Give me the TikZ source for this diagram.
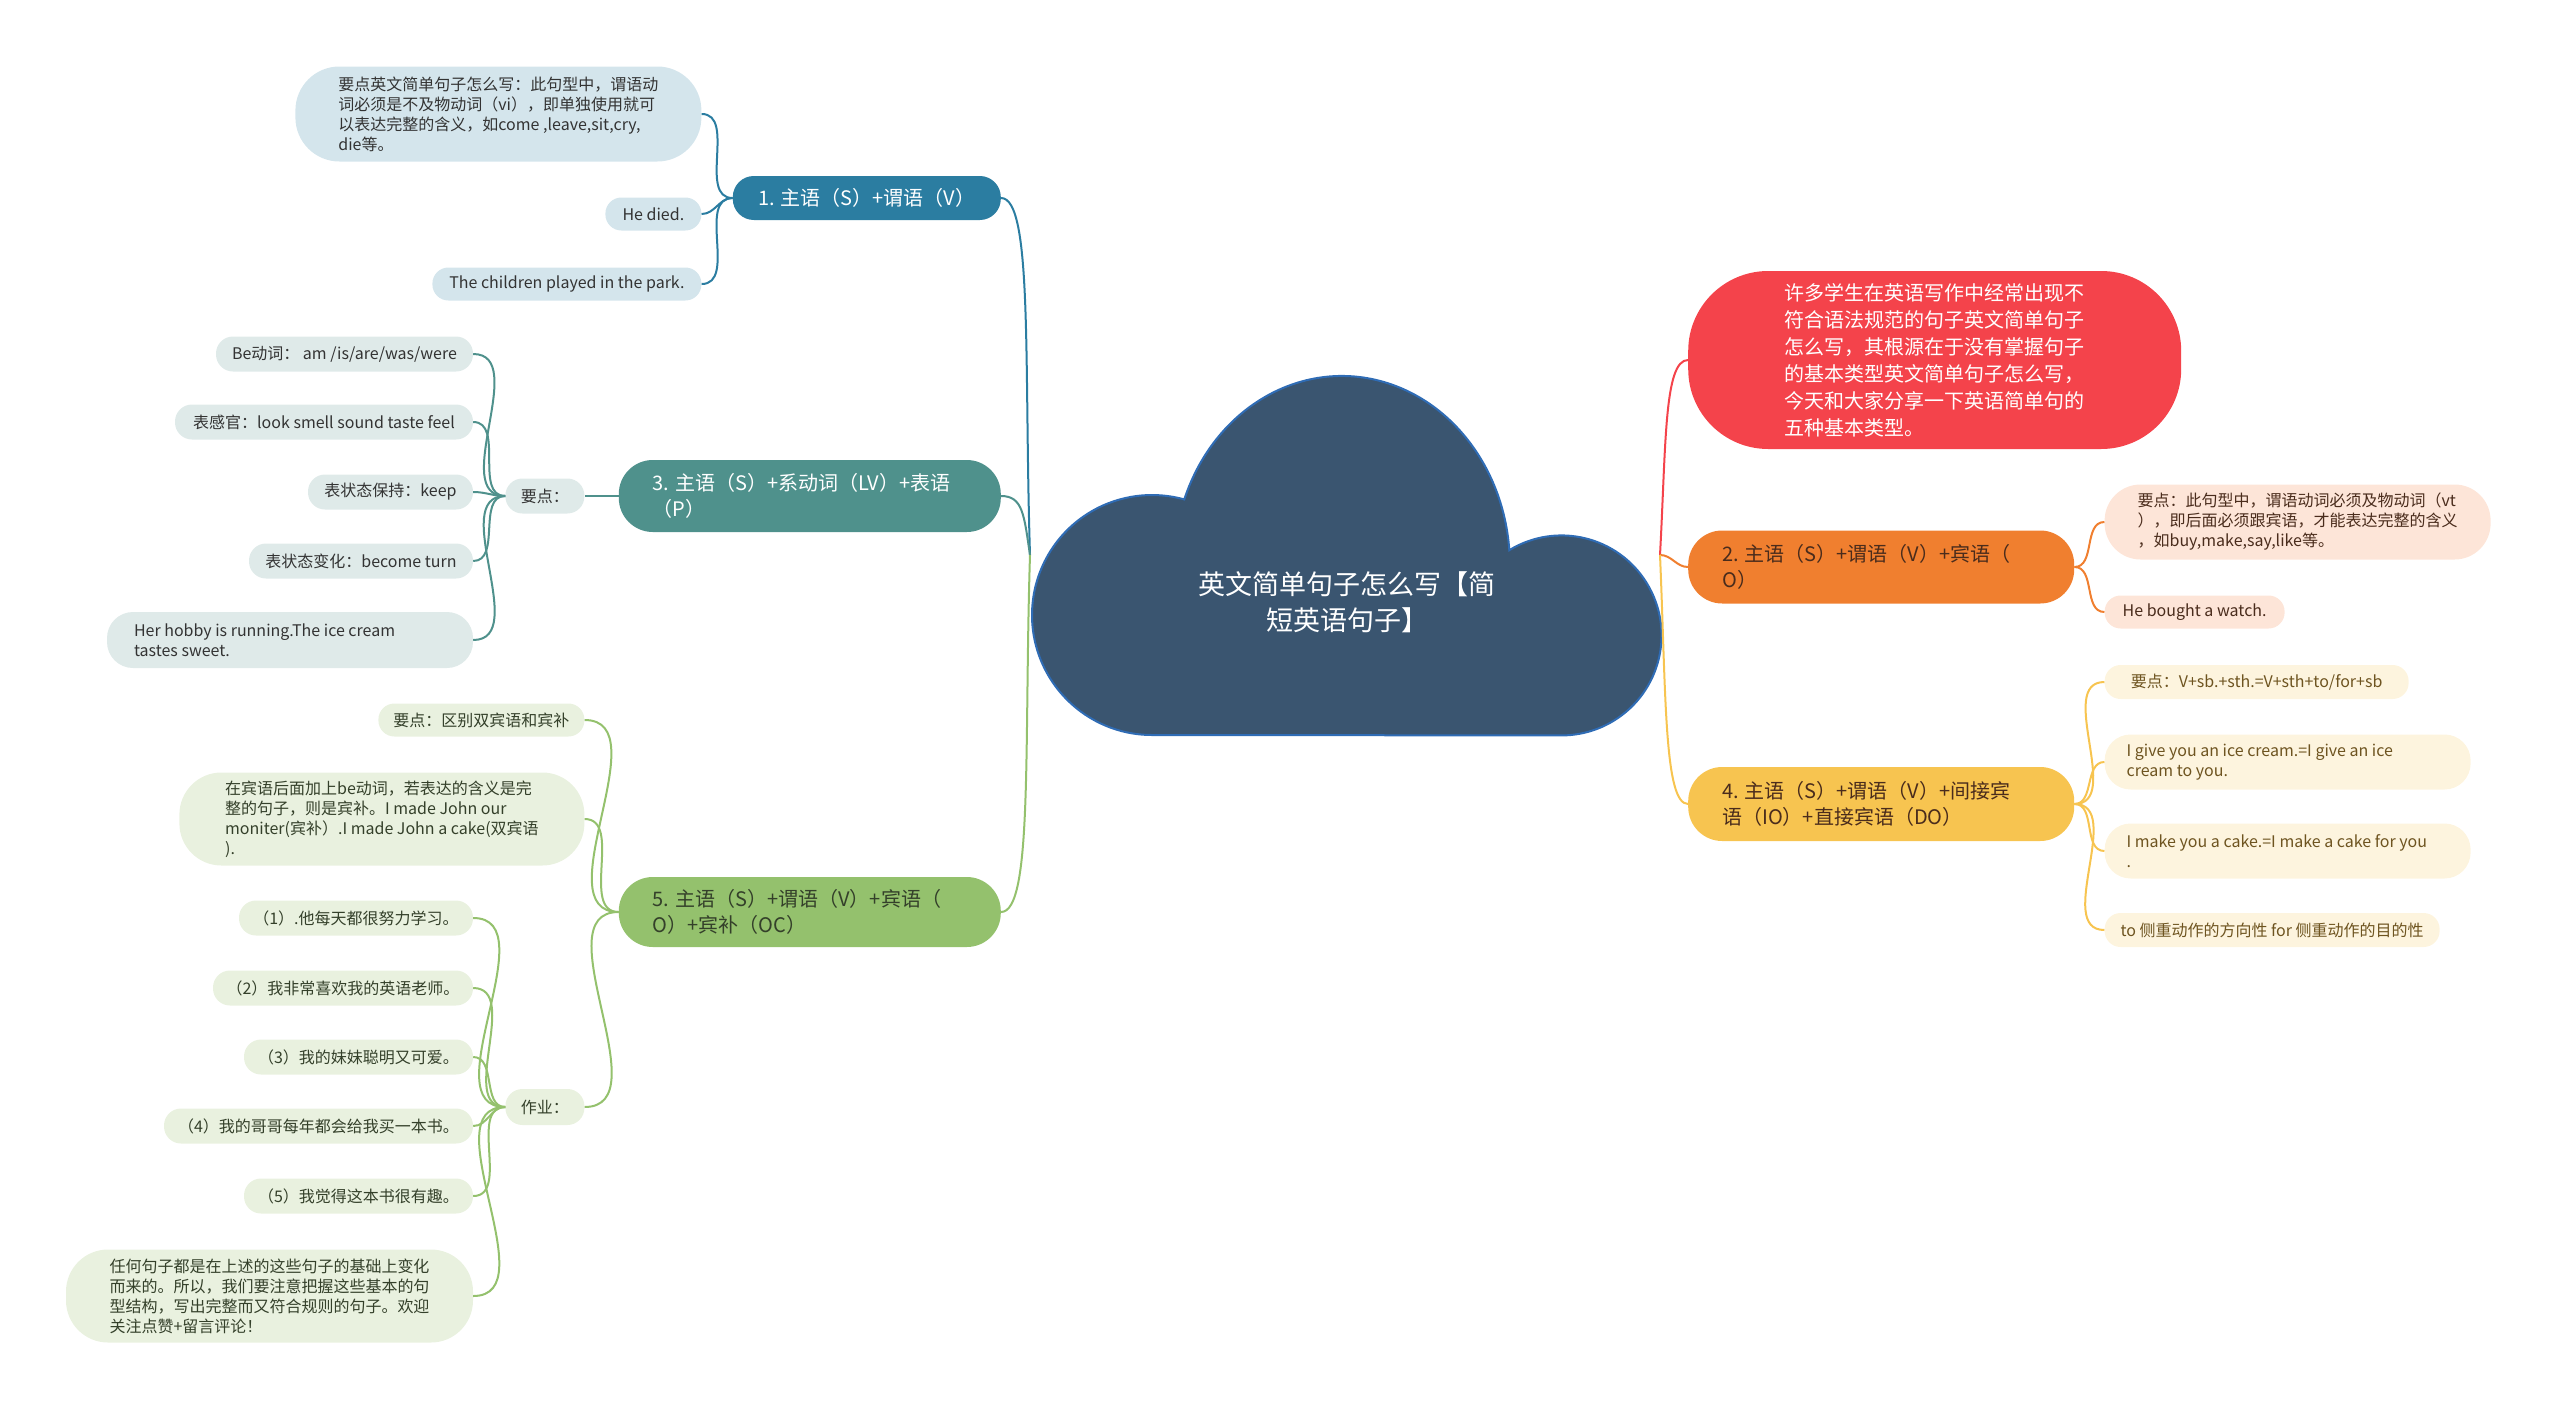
\documentclass[tikz,border=0pt]{standalone}
\usepackage{fontspec}
\setmainfont{Noto Sans CJK SC}
\usepackage{xcolor}
\usetikzlibrary{positioning}

\definecolor{cloudfill}{HTML}{3A5570}
\definecolor{cloudline}{HTML}{2F6CB5}
\definecolor{blueA}{HTML}{2B7DA1}
\definecolor{blueL}{HTML}{D4E5EC}
\definecolor{tealA}{HTML}{4F918C}
\definecolor{tealL}{HTML}{DFEAE9}
\definecolor{greenA}{HTML}{94C16D}
\definecolor{greenL}{HTML}{E9F1DF}
\definecolor{redA}{HTML}{F4434B}
\definecolor{orangeA}{HTML}{F07F2F}
\definecolor{orangeL}{HTML}{FDE5D8}
\definecolor{yellowA}{HTML}{F7C450}
\definecolor{yellowL}{HTML}{FDF4DE}
\definecolor{ink}{HTML}{333333}
\definecolor{brownink}{HTML}{4A2C1C}
\definecolor{oliveink}{HTML}{6E5420}
\definecolor{greenink}{HTML}{34402A}

\begin{document}
\begin{tikzpicture}[
  x=1pt, y=1pt,
  topic/.style={
    inner sep=0pt,
    align=flush left,
    minimum height=44pt,
    rounded corners=21pt,
    font=\fontsize{20}{26}\selectfont
  },
  leaf/.style={
    inner sep=0pt,
    align=flush left,
    minimum height=33pt,
    rounded corners=16pt,
    font=\fontsize{16}{20}\selectfont,
    text=ink
  },
  link/.style={draw=#1, line width=2pt}
]
\useasboundingbox (0,0) rectangle (2560,-1411);

% ================= centre cloud =================
\filldraw[fill=cloudfill, draw=cloudline, line width=2pt]
  (1152,-735) arc[start angle=270, end angle=74.4, radius=120pt]
  arc[start angle=159.7, end angle=4.5, x radius=168pt, y radius=189pt]
  arc[start angle=121.5, end angle=-90, radius=100pt] -- cycle;

\node[text=white, align=center, font=\fontsize{27}{36}\selectfont] (root)
  at (1347,-602) {英文简单句子怎么写【简\\短英语句子】};

\coordinate (jl) at (1030,-555);
\coordinate (jr) at (1660,-555);

% ================= topic 1 =================
\node[topic, fill=blueA, text=white, anchor=east, minimum width=268pt] (b1)
  at (1001,-198) {1. 主语（S）+谓语（V）};

\node[leaf, fill=blueL, minimum width=406pt, minimum height=95pt, rounded corners=44pt,
  left=31pt of b1, yshift=84pt] (b1n1)
  {要点英文简单句子怎么写：此句型中，谓语动\\词必须是不及物动词（vi），即单独使用就可\\以表达完整的含义，如come ,leave,sit,cry,\\die等。};
\node[leaf, fill=blueL, minimum width=96pt, left=31pt of b1, yshift=-16pt] (b1n2)
  {He died.};
\node[leaf, fill=blueL, minimum width=269pt, left=31pt of b1, yshift=-86pt] (b1n3)
  {The children played in the park.};

\draw[link=blueA] (jl) .. controls +(-6,190) and +(32,0) .. (b1.east);
\draw[link=blueA] (b1.west) to[out=180, in=0] (b1n1.east);
\draw[link=blueA] (b1.west) to[out=180, in=0] (b1n2.east);
\draw[link=blueA] (b1.west) to[out=180, in=0] (b1n3.east);

% ================= topic 3 =================
\node[topic, fill=tealA, text=white, anchor=east, minimum width=382pt,
  minimum height=72pt, rounded corners=34pt, text width=314pt] (b3)
  at (1001,-496) {3. 主语（S）+系动词（LV）+表语\\（P）};

\node[leaf, fill=tealL, minimum width=79pt, minimum height=35pt, rounded corners=17pt,
  left=34pt of b3] (k3) {要点：};

\node[leaf, fill=tealL, minimum width=257pt, minimum height=35pt, rounded corners=17pt,
  left=32pt of k3, yshift=142pt] (k3n1) {Be动词： am /is/are/was/were};
\node[leaf, fill=tealL, minimum width=298pt, minimum height=35pt, rounded corners=17pt,
  left=32pt of k3, yshift=74pt] (k3n2) {表感官：look smell sound taste feel};
\node[leaf, fill=tealL, minimum width=165pt, minimum height=35pt, rounded corners=17pt,
  left=32pt of k3, yshift=4pt] (k3n3) {表状态保持：keep};
\node[leaf, fill=tealL, minimum width=224pt, minimum height=35pt, rounded corners=17pt,
  left=32pt of k3, yshift=-65pt] (k3n4) {表状态变化：become turn};
\node[leaf, fill=tealL, minimum width=366pt, minimum height=56pt, rounded corners=26pt,
  text width=312pt, left=32pt of k3, yshift=-144pt] (k3n5)
  {Her hobby is running.The ice cream\\tastes sweet.};

\draw[link=tealA] (jl) .. controls +(-6,40) and +(22,0) .. (b3.east);
\draw[link=tealA] (b3.west) -- (k3.east);
\draw[link=tealA] (k3.west) to[out=180, in=0] (k3n1.east);
\draw[link=tealA] (k3.west) to[out=180, in=0] (k3n2.east);
\draw[link=tealA] (k3.west) to[out=180, in=0] (k3n3.east);
\draw[link=tealA] (k3.west) to[out=180, in=0] (k3n4.east);
\draw[link=tealA] (k3.west) to[out=180, in=0] (k3n5.east);

% ================= topic 5 =================
\node[topic, fill=greenA, text=greenink, anchor=east, minimum width=382pt,
  minimum height=70pt, rounded corners=34pt, text width=314pt] (b5)
  at (1001,-912) {5. 主语（S）+谓语（V）+宾语（\\O）+宾补（OC）};

\node[leaf, fill=greenL, text=greenink, minimum width=206pt, left=34pt of b5,
  yshift=192pt] (k5) {要点：区别双宾语和宾补};
\node[leaf, fill=greenL, text=greenink, minimum width=405pt, minimum height=93pt,
  rounded corners=42pt, left=34pt of b5, yshift=93pt] (b5n2)
  {在宾语后面加上be动词，若表达的含义是完\\整的句子，则是宾补。I made John our\\moniter(宾补）.I made John a cake(双宾语\\).};
\node[leaf, fill=greenL, text=greenink, minimum width=79pt, minimum height=36pt,
  rounded corners=17pt, left=34pt of b5, yshift=-195pt] (hw) {作业：};

% homework items
\node[leaf, fill=greenL, text=greenink, minimum width=234pt, minimum height=35pt,
  rounded corners=17pt, left=32pt of hw, yshift=189pt] (hw1) {（1）.他每天都很努力学习。};
\node[leaf, fill=greenL, text=greenink, minimum width=260pt, minimum height=35pt,
  rounded corners=17pt, left=32pt of hw, yshift=119pt] (hw2) {（2）我非常喜欢我的英语老师。};
\node[leaf, fill=greenL, text=greenink, minimum width=229pt, minimum height=35pt,
  rounded corners=17pt, left=32pt of hw, yshift=50pt] (hw3) {（3）我的妹妹聪明又可爱。};
\node[leaf, fill=greenL, text=greenink, minimum width=309pt, minimum height=35pt,
  rounded corners=17pt, left=32pt of hw, yshift=-19pt] (hw4) {（4）我的哥哥每年都会给我买一本书。};
\node[leaf, fill=greenL, text=greenink, minimum width=229pt, minimum height=35pt,
  rounded corners=17pt, left=32pt of hw, yshift=-89pt] (hw5) {（5）我觉得这本书很有趣。};
\node[leaf, fill=greenL, text=greenink, minimum width=407pt, minimum height=93pt,
  rounded corners=42pt, left=32pt of hw, yshift=-189pt] (hw6)
  {任何句子都是在上述的这些句子的基础上变化\\而来的。所以，我们要注意把握这些基本的句\\型结构，写出完整而又符合规则的句子。欢迎\\关注点赞+留言评论！};

\draw[link=greenA] (jl) .. controls +(-6,-190) and +(32,0) .. (b5.east);
\draw[link=greenA] (b5.west) to[out=180, in=0] (k5.east);
\draw[link=greenA] (b5.west) to[out=180, in=0] (b5n2.east);
\draw[link=greenA] (b5.west) to[out=180, in=0] (hw.east);
\draw[link=greenA] (hw.west) to[out=180, in=0] (hw1.east);
\draw[link=greenA] (hw.west) to[out=180, in=0] (hw2.east);
\draw[link=greenA] (hw.west) to[out=180, in=0] (hw3.east);
\draw[link=greenA] (hw.west) to[out=180, in=0] (hw4.east);
\draw[link=greenA] (hw.west) to[out=180, in=0] (hw5.east);
\draw[link=greenA] (hw.west) to[out=180, in=0] (hw6.east);

% ================= intro bubble =================
\node[topic, fill=redA, text=white, anchor=west, minimum width=493pt,
  minimum height=178pt, rounded corners=80pt, font=\fontsize{20}{27}\selectfont] (intro)
  at (1688,-360)
  {许多学生在英语写作中经常出现不\\符合语法规范的句子英文简单句子\\怎么写，其根源在于没有掌握句子\\的基本类型英文简单句子怎么写，\\今天和大家分享一下英语简单句的\\五种基本类型。};

\draw[link=redA] (jr) .. controls +(6,110) and +(-24,0) .. (intro.west);

% ================= topic 2 =================
\node[topic, fill=orangeA, text=brownink, anchor=west, minimum width=386pt,
  minimum height=73pt, rounded corners=34pt, text width=318pt] (b2)
  at (1688,-567) {2. 主语（S）+谓语（V）+宾语（\\O）};

\node[leaf, fill=orangeL, text=brownink, minimum width=386pt, minimum height=75pt,
  rounded corners=36pt, right=30pt of b2, yshift=45pt] (b2n1)
  {要点：此句型中，谓语动词必须及物动词（vt\\），即后面必须跟宾语，才能表达完整的含义\\，如buy,make,say,like等。};
\node[leaf, fill=orangeL, text=brownink, minimum width=180pt, right=30pt of b2,
  yshift=-45pt] (b2n2) {He bought a watch.};

\draw[link=orangeA] (jr) to[out=0, in=180] (b2.west);
\draw[link=orangeA] (b2.east) to[out=0, in=180] (b2n1.west);
\draw[link=orangeA] (b2.east) to[out=0, in=180] (b2n2.west);

% ================= topic 4 =================
\node[topic, fill=yellowA, text=brownink, anchor=west, minimum width=386pt,
  minimum height=74pt, rounded corners=34pt, text width=318pt] (b4)
  at (1688,-804) {4. 主语（S）+谓语（V）+间接宾\\语（IO）+直接宾语（DO）};

\node[leaf, fill=yellowL, text=oliveink, minimum width=304pt, minimum height=34pt,
  right=30pt of b4, yshift=122pt] (b4n1) {要点：V+sb.+sth.=V+sth+to/for+sb};
\node[leaf, fill=yellowL, text=oliveink, minimum width=366pt, minimum height=55pt,
  rounded corners=26pt, text width=322pt, right=30pt of b4, yshift=42pt] (b4n2)
  {I give you an ice cream.=I give an ice\\cream to you.};
\node[leaf, fill=yellowL, text=oliveink, minimum width=366pt, minimum height=55pt,
  rounded corners=26pt, text width=322pt, right=30pt of b4, yshift=-47pt] (b4n3)
  {I make you a cake.=I make a cake for you\\.};
\node[leaf, fill=yellowL, text=oliveink, minimum width=335pt, minimum height=34pt,
  right=30pt of b4, yshift=-126pt] (b4n4) {to 侧重动作的方向性 for 侧重动作的目的性};

\draw[link=yellowA] (jr) .. controls +(6,-140) and +(-24,0) .. (b4.west);
\draw[link=yellowA] (b4.east) to[out=0, in=180] (b4n1.west);
\draw[link=yellowA] (b4.east) to[out=0, in=180] (b4n2.west);
\draw[link=yellowA] (b4.east) to[out=0, in=180] (b4n3.west);
\draw[link=yellowA] (b4.east) to[out=0, in=180] (b4n4.west);

\end{tikzpicture}
\end{document}
